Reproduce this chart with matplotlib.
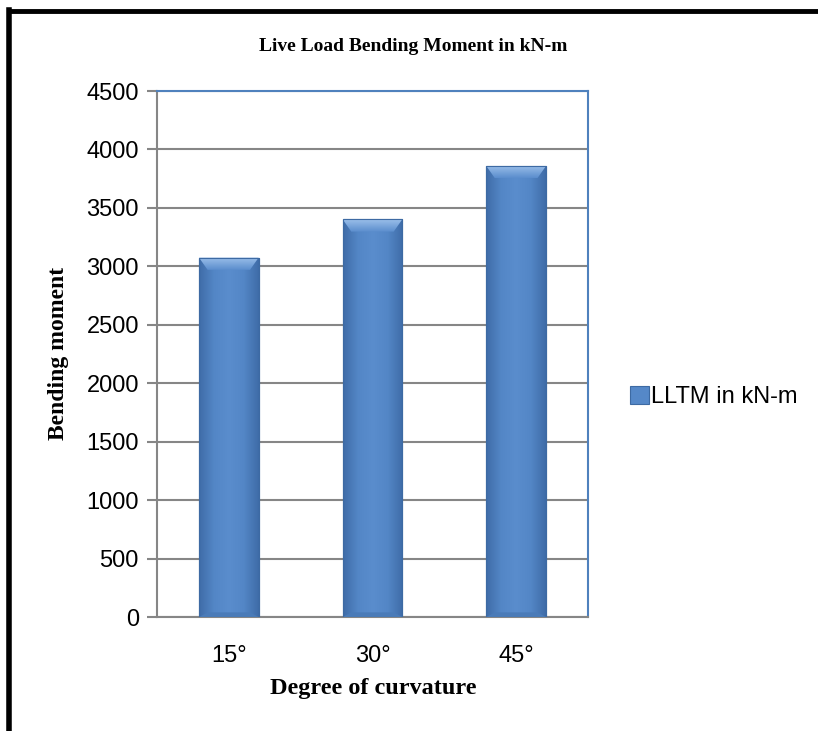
import numpy as np
import matplotlib.pyplot as plt
from matplotlib.lines import Line2D
from matplotlib.patches import Polygon
from matplotlib.colors import LinearSegmentedColormap

categories = ["15°", "30°", "45°"]
llmt = [3075, 3402, 3858]  # live load bending moment, kN-m
yticks = [0, 500, 1000, 1500, 2000, 2500, 3000, 3500, 4000, 4500]

serif = "Liberation Serif"
sans = "Liberation Sans"

fig = plt.figure(figsize=(8.18, 7.31), dpi=100)
ax = fig.add_axes([0.1919, 0.1559, 0.5269, 0.7196])

x = np.arange(len(categories))
w = 0.415
bars = ax.bar(x, llmt, width=w, color="#5588c8", edgecolor="#3d6aa3",
              linewidth=0.8, zorder=3, label="LLTM in kN-m")

# shaded fill across each bar, darker toward the sides
cmap = LinearSegmentedColormap.from_list(
    "bev", ["#3f6ca8", "#5386c6", "#5a8dcd", "#5386c6", "#3f6ca8"])
grad = np.linspace(0, 1, 256).reshape(1, -1)
topmap = LinearSegmentedColormap.from_list("topbev", ["#5a8dcd", "#9cc0ea"])
for b, v in zip(bars, llmt):
    x0 = b.get_x()
    im = ax.imshow(grad, cmap=cmap, aspect="auto",
                   extent=(x0, x0 + w, 0, v), zorder=3.5)
    im.set_clip_path(b)
    # bevel on top edge, lighter toward the rim
    dy = 105
    dx = 0.06
    top = Polygon([[x0, v], [x0 + w, v], [x0 + w - dx, v - dy], [x0 + dx, v - dy]],
                  closed=True, facecolor="none", edgecolor="none", zorder=4)
    ax.add_patch(top)
    tim = ax.imshow(np.linspace(0, 1, 64).reshape(-1, 1), cmap=topmap, aspect="auto",
                    origin="lower", extent=(x0, x0 + w, v - dy, v), zorder=4)
    tim.set_clip_path(top)
    bot = Polygon([[x0, 0], [x0 + w, 0], [x0 + w - dx, 40], [x0 + dx, 40]],
                  closed=True, facecolor="#4a7bb8", edgecolor="none", zorder=4)
    ax.add_patch(bot)
    ax.add_patch(Polygon([[x0, 0], [x0 + w, 0], [x0 + w, v], [x0, v]], closed=True,
                         facecolor="none", edgecolor="#3d6aa3", linewidth=0.8, zorder=4.5))

ax.set_xlim(-0.5, 2.5)
ax.set_ylim(0, 4500)
ax.set_yticks(yticks)
ax.set_xticks(x)
ax.set_xticklabels(categories)
ax.yaxis.grid(True, color="#868686", linewidth=1.5, zorder=0)
ax.set_axisbelow(True)

for s in ["left", "bottom"]:
    ax.spines[s].set_color("#868686")
    ax.spines[s].set_linewidth(1.5)
for s in ["top", "right"]:
    ax.spines[s].set_color("#4f81bd")
    ax.spines[s].set_linewidth(1.5)

ax.tick_params(axis="y", direction="out", length=7, width=1.5, color="#868686",
               labelsize=17, pad=6)
ax.tick_params(axis="x", length=0, labelsize=17, pad=20)
for lab in ax.get_xticklabels() + ax.get_yticklabels():
    lab.set_fontfamily(sans)

fig.text(0.505, 0.936, "Live Load Bending Moment in kN-m", ha="center", va="center",
         fontsize=14, fontweight="bold", fontfamily=serif)
fig.text(0.072, 0.516, "Bending moment", ha="center", va="center", rotation=90,
         fontsize=17, fontweight="bold", fontfamily=serif)
fig.text(0.456, 0.058, "Degree of curvature", ha="center", va="center",
         fontsize=17.5, fontweight="bold", fontfamily=serif)

leg = fig.legend(handles=[bars], labels=["LLTM in kN-m"], loc="center left",
                 bbox_to_anchor=(0.744, 0.457), frameon=False, handlelength=0.8,
                 handleheight=0.8, handletextpad=0.1, prop={"family": sans, "size": 17})

# page frame lines
fig.add_artist(Line2D([0.0105, 1.0], [0.985, 0.985], color="black", linewidth=3.5,
                      transform=fig.transFigure))
fig.add_artist(Line2D([0.0116, 0.0116], [0.0, 0.987], color="black", linewidth=4,
                      transform=fig.transFigure))

fig.savefig("out.png", dpi=100)
